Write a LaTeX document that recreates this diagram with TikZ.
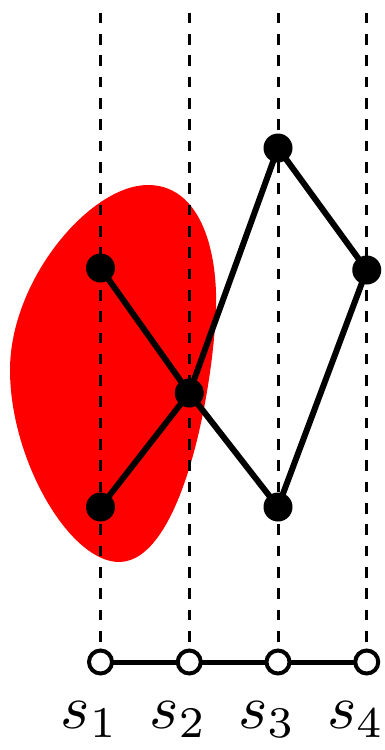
\documentclass[tikz,border=0pt]{standalone}
\usepackage{graphicx}
\begin{document}
\begin{tikzpicture}[x=0.5pt,y=-0.5pt,
  guide/.style={line width=1.5pt,dash pattern=on 5.33pt off 5.33pt},
  edge/.style={line width=3pt},
  dot/.style={circle,fill=black,inner sep=0pt,minimum size=14.5pt},
  opendot/.style={circle,draw=black,fill=white,line width=2pt,inner sep=0pt,minimum size=11.5pt},
  chain/.style={line width=2.5pt},
  lab/.style={anchor=base west,inner sep=0pt}]
\useasboundingbox (0,0) rectangle (385,750);
% red region
\fill[red] (148,185) .. controls (198,185) and (218,245) .. (216,310)
  .. controls (212,400) and (180,560) .. (120,562)
  .. controls (70,563) and (10,460) .. (10,370)
  .. controls (10,280) and (90,185) .. (148,185) -- cycle;
% guide lines
\foreach \i/\x in {1/100.5,2/189.25,3/278,4/366.75}{
  \coordinate (t\i) at (\x,12.7);
  \coordinate (b\i) at (\x,662);
  \draw[guide] (t\i) -- (b\i);
}
% graph nodes
\node[dot] (a) at (100.5,268) {};
\node[dot] (b) at (100.5,507) {};
\node[dot] (c) at (189.25,393) {};
\node[dot] (d) at (278,148) {};
\node[dot] (e) at (278,507) {};
\node[dot] (f) at (366.75,270) {};
\draw[edge] (a.center) -- (c.center) -- (e.center) -- (f.center) -- (d.center) -- (c.center) -- (b.center);
% bottom chain
\draw[chain] (b1) -- (b4);
\foreach \i/\x in {1/100.5,2/189.25,3/278,4/366.75}{
  \node[opendot] (o\i) at (b\i) {};
  \node[lab] (s\i) at (\x-40,728) {\scalebox{3.13}{$s_{\i}$}};
}
\end{tikzpicture}
\end{document}
